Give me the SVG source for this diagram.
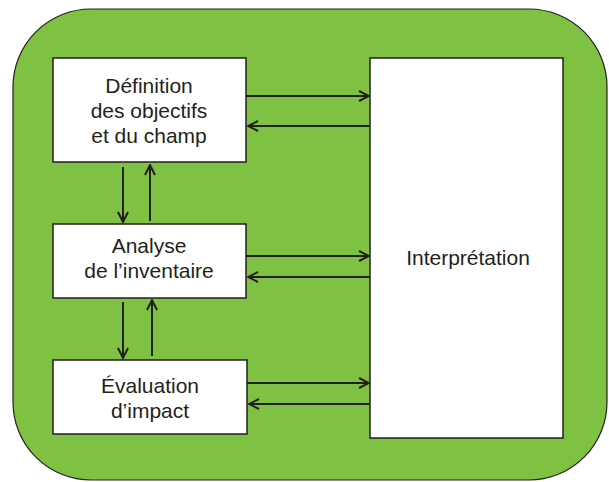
<svg xmlns="http://www.w3.org/2000/svg" width="609" height="482" viewBox="0 0 609 482">
<defs>
<style>
.box{fill:#fff;stroke:#231f20;stroke-width:1.5}
.lbl{font-family:"Liberation Sans",Arial,sans-serif;font-size:21px;fill:#231f20;text-anchor:middle}
.c{stroke:#231f20;stroke-width:2;fill:none}
</style>
<marker id="ah" viewBox="0 0 12 12" refX="11" refY="6" markerWidth="12" markerHeight="12" markerUnits="userSpaceOnUse" orient="auto">
<path d="M1,1 L11,6 L1,11" fill="none" stroke="#231f20" stroke-width="2"/>
</marker>
</defs>
<rect x="13" y="9" width="594" height="471" rx="78" ry="78" fill="#7fc142" stroke="#231f20" stroke-width="1.2"/>
<g id="def">
<rect class="box" x="53" y="58" width="193" height="104"/>
<text class="lbl" x="149" y="93">Définition</text>
<text class="lbl" x="149" y="118">des objectifs</text>
<text class="lbl" x="149" y="143">et du champ</text>
</g>
<g id="ana">
<rect class="box" x="53" y="224" width="193" height="74"/>
<text class="lbl" x="149" y="253">Analyse</text>
<text class="lbl" x="149" y="278">de l’inventaire</text>
</g>
<g id="eval">
<rect class="box" x="53" y="360" width="194" height="74"/>
<text class="lbl" x="150" y="393">Évaluation</text>
<text class="lbl" x="150" y="418">d’impact</text>
</g>
<g id="interp">
<rect class="box" x="370" y="58" width="193" height="380"/>
<text class="lbl" x="468" y="265">Interprétation</text>
</g>
<g id="connectors">
<line class="c" x1="246" y1="96" x2="369" y2="96" marker-end="url(#ah)"/>
<line class="c" x1="370" y1="126" x2="248" y2="126" marker-end="url(#ah)"/>
<line class="c" x1="246" y1="256" x2="369" y2="256" marker-end="url(#ah)"/>
<line class="c" x1="370" y1="277" x2="248" y2="277" marker-end="url(#ah)"/>
<line class="c" x1="247" y1="383" x2="369" y2="383" marker-end="url(#ah)"/>
<line class="c" x1="370" y1="404" x2="249" y2="404" marker-end="url(#ah)"/>
<line class="c" x1="123" y1="167" x2="123" y2="222" marker-end="url(#ah)"/>
<line class="c" x1="150" y1="221" x2="150" y2="165" marker-end="url(#ah)"/>
<line class="c" x1="123" y1="302" x2="123" y2="358" marker-end="url(#ah)"/>
<line class="c" x1="152" y1="356" x2="152" y2="300" marker-end="url(#ah)"/>
</g>
</svg>
